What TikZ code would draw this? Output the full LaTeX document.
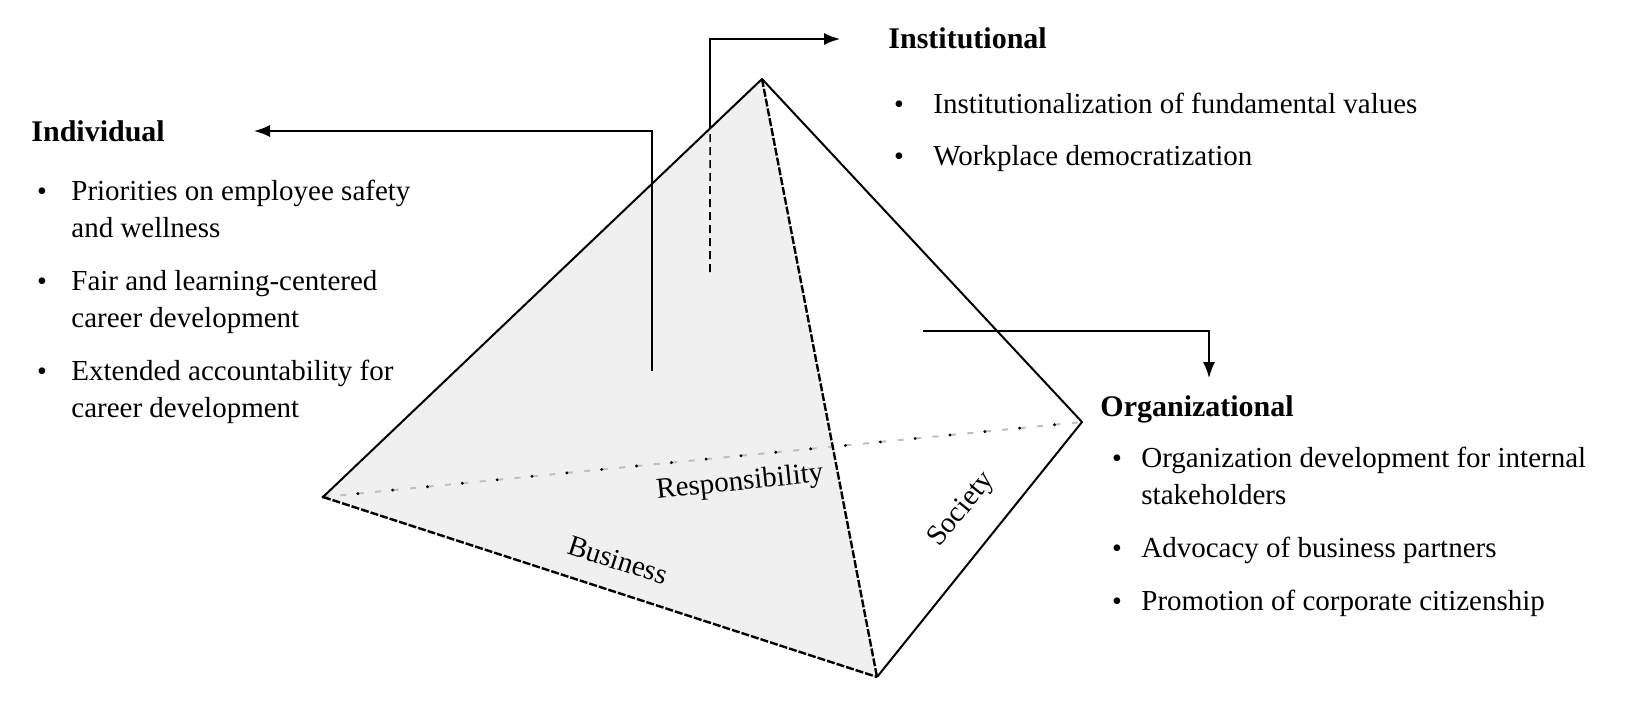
\documentclass[tikz,border=0pt]{standalone}
\usepackage{fontspec}
\setmainfont{Liberation Serif}
\usetikzlibrary{arrows.meta}

\begin{document}
\begin{tikzpicture}[x=0.5pt,y=-0.5pt,
  every node/.style={inner sep=0pt,font=\fontsize{14.5}{18.5}\selectfont},
  head/.style={anchor=base west,font=\fontsize{15}{18.5}\selectfont\bfseries},
  item/.style={anchor=base west,align=left},
  bul/.style={anchor=base,font=\fontsize{14}{14}\selectfont},
  edge/.style={line width=1pt},
  link/.style={line width=0.8pt},
  tip/.style={-{Latex[length=8pt,width=6pt]}}]
\useasboundingbox (0,0) rectangle (1637,707);
% corners of the pyramid
\coordinate (A) at (762,79);
\coordinate (L) at (323,497);
\coordinate (B) at (877,677);
\coordinate (R) at (1082,422);
% front face
\fill[gray!12] (A) -- (L) -- (B) -- cycle;
% hidden back edge
\draw[gray!50,line width=1pt,dash pattern=on 3pt off 5.75pt] (L) -- (R);
\draw[line width=1.6pt,line cap=round,dash pattern=on 0pt off 17.5pt] (L) -- (R);
% outside edges
\draw[edge,line join=round] (L) -- (A) -- (R) -- (B);
\draw[edge,line width=1.2pt,dash pattern=on 4pt off 1pt] (A) -- (B);
\draw[edge,line width=1.2pt,dash pattern=on 4pt off 1pt] (L) -- (B);
% face labels
\node[rotate=6] (resp) at (740,483) {Responsibility};
\node[rotate=-18] (bus) at (618,560) {Business};
\node[rotate=51] (soc) at (962,510) {Society};
% individual
\node[head] (ind) at (31,141) {Individual};
\node[bul] (indb1) at (42,200) {\textbullet};
\node[item] (ind1) at (71,237) {Priorities on employee safety\\and wellness};
\node[bul] (indb2) at (42,290) {\textbullet};
\node[item] (ind2) at (71,327) {Fair and learning-centered\\career development};
\node[bul] (indb3) at (42,380) {\textbullet};
\node[item] (ind3) at (71,417) {Extended accountability for\\career development};
% institutional
\node[head] (ins) at (888,48) {Institutional};
\node[bul] (insb1) at (899,113) {\textbullet};
\node[item] (ins1) at (933,113) {Institutionalization of fundamental values};
\node[bul] (insb2) at (899,165) {\textbullet};
\node[item] (ins2) at (933,165) {Workplace democratization};
% organizational
\node[head] (org) at (1100,416) {Organizational};
\node[bul] (orgb1) at (1117,467) {\textbullet};
\node[item] (org1) at (1141,504) {Organization development for internal\\stakeholders};
\node[bul] (orgb2) at (1117,557) {\textbullet};
\node[item] (org2) at (1141,557) {Advocacy of business partners};
\node[bul] (orgb3) at (1117,610) {\textbullet};
\node[item] (org3) at (1141,610) {Promotion of corporate citizenship};
% arrows
\coordinate (indfoot) at (652,371);
\coordinate (indtip) at (254,131);
\draw[link,tip] (indfoot) |- (indtip);
\coordinate (insfoot) at (710,272);
\coordinate (instop) at (710,39);
\coordinate (instip) at (840,39);
\coordinate (inscross) at (intersection of A--L and insfoot--instop);
\draw[link,dash pattern=on 4pt off 2.5pt] (insfoot) -- (inscross);
\draw[link,tip] (inscross) |- (instip);
\coordinate (orgfoot) at (923,331);
\coordinate (orgtip) at (1209,378);
\draw[link,tip] (orgfoot) -| (orgtip);
\end{tikzpicture}
\end{document}
